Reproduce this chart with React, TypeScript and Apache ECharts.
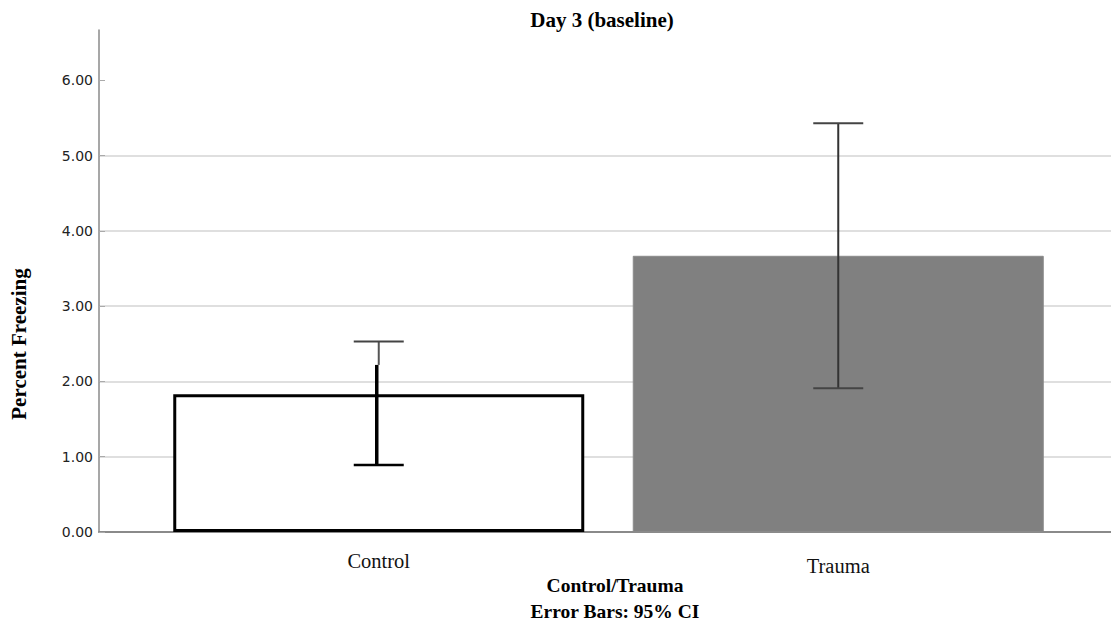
import React, { useEffect, useRef } from "react";
import * as echarts from "echarts";

const categories = ["Control", "Trauma"];
const meanValues = [1.83, 3.67];
const ciLow = [0.89, 1.91];
const ciHigh = [2.53, 5.43];
const thickTop = [2.22, null];
const yTicks = [0, 1, 2, 3, 4, 5, 6];

const serif = "'Liberation Serif', 'Times New Roman', serif";

export default function App() {
  const ref = useRef<HTMLDivElement>(null);
  useEffect(() => {
    if (!ref.current) return;
    const chart = echarts.init(ref.current, null, { renderer: "svg" });
    const gridColors = yTicks
      .map((t) => (t === 6 ? "rgba(0,0,0,0)" : "#d4d4d4"))
      .concat(["rgba(0,0,0,0)"]);
    chart.setOption({
      animation: false,
      backgroundColor: "#fff",
      grid: [
        { left: 99, right: 0, top: 30, bottom: 89, outerBoundsMode: "none", containLabel: false },
        { left: 149, right: 43, top: 30, bottom: 89, outerBoundsMode: "none", containLabel: false },
      ],
      xAxis: [
        {
          type: "category",
          gridIndex: 0,
          data: [""],
          axisLine: { show: true, lineStyle: { color: "#8a8a8a", width: 2 } },
          axisTick: { show: false },
          axisLabel: { show: false },
        },
        {
          type: "category",
          gridIndex: 1,
          data: categories,
          axisLine: { show: false },
          axisTick: { show: false },
          axisLabel: {
            margin: 18,
            fontFamily: serif,
            fontSize: 20.5,
            color: "#111",
            formatter: (v: string) => (v === "Trauma" ? "{b|" + v + "}" : "{a|" + v + "}"),
            rich: {
              a: { fontFamily: serif, fontSize: 20.5, color: "#111" },
              b: { fontFamily: serif, fontSize: 20.5, color: "#111", padding: [5, 0, 0, 0] },
            },
          },
        },
      ],
      yAxis: [
        {
          type: "value",
          gridIndex: 0,
          min: 0,
          max: 6.67,
          interval: 1,
          axisLine: { show: true, lineStyle: { color: "#8a8a8a", width: 1.5 } },
          axisTick: { show: true, inside: true, length: 6, lineStyle: { color: "#aaa" } },
          axisLabel: {
            margin: 6,
            fontFamily: "'DejaVu Sans', sans-serif",
            fontSize: 14,
            color: "#222",
            showMaxLabel: false,
            formatter: (v: number) => v.toFixed(2),
          },
          splitLine: { show: true, lineStyle: { color: gridColors, width: 1.5 } },
        },
        {
          type: "value",
          gridIndex: 1,
          min: 0,
          max: 6.67,
          interval: 1,
          show: false,
          splitLine: { show: false },
        },
      ],
      graphic: [
        {
          type: "text",
          x: 602,
          y: 20,
          style: {
            text: "Day 3 (baseline)",
            fontFamily: serif,
            fontSize: 21,
            fontWeight: "bold",
            fill: "#000",
            textAlign: "center",
            textVerticalAlign: "middle",
          },
        },
        {
          type: "text",
          x: 19,
          y: 344,
          rotation: Math.PI / 2,
          style: {
            text: "Percent Freezing",
            fontFamily: serif,
            fontSize: 21,
            fontWeight: "bold",
            fill: "#000",
            textAlign: "center",
            textVerticalAlign: "middle",
          },
        },
        {
          type: "text",
          x: 615,
          y: 585,
          style: {
            text: "Control/Trauma",
            fontFamily: serif,
            fontSize: 19.5,
            fontWeight: "bold",
            fill: "#000",
            textAlign: "center",
            textVerticalAlign: "middle",
          },
        },
        {
          type: "text",
          x: 615,
          y: 611,
          style: {
            text: "Error Bars: 95% CI",
            fontFamily: serif,
            fontSize: 19.5,
            fontWeight: "bold",
            fill: "#000",
            textAlign: "center",
            textVerticalAlign: "middle",
          },
        },
      ],
      series: [
        {
          type: "bar",
          xAxisIndex: 1,
          yAxisIndex: 1,
          barWidth: 411,
          data: [
            { value: meanValues[0], itemStyle: { color: "#ffffff", borderColor: "#000", borderWidth: 3 } },
            { value: meanValues[1], itemStyle: { color: "#808080", borderColor: "#8a8a8a", borderWidth: 1 } },
          ],
        },
        {
          type: "custom",
          xAxisIndex: 1,
          yAxisIndex: 1,
          z: 10,
          data: categories.map((c, i) => [i, ciLow[i], ciHigh[i], thickTop[i] == null ? -1 : thickTop[i]]),
          renderItem: (params: any, api: any) => {
            const i = api.value(0);
            const lo = api.coord([i, api.value(1)]);
            const hi = api.coord([i, api.value(2)]);
            const tt = api.value(3);
            const half = 25;
            const children: any[] = [];
            if (tt > 0) {
              const mid = api.coord([i, tt]);
              children.push(
                { type: "line", shape: { x1: hi[0], y1: hi[1], x2: hi[0], y2: mid[1] }, style: { stroke: "#555", lineWidth: 2 } },
                { type: "line", shape: { x1: lo[0] - 2, y1: lo[1], x2: lo[0] - 2, y2: mid[1] }, style: { stroke: "#000", lineWidth: 3.5 } },
                { type: "line", shape: { x1: hi[0] - half, y1: hi[1], x2: hi[0] + half, y2: hi[1] }, style: { stroke: "#444", lineWidth: 2 } },
                { type: "line", shape: { x1: lo[0] - half, y1: lo[1], x2: lo[0] + half, y2: lo[1] }, style: { stroke: "#000", lineWidth: 2.5 } }
              );
            } else {
              children.push(
                { type: "line", shape: { x1: lo[0], y1: lo[1], x2: hi[0], y2: hi[1] }, style: { stroke: "#333", lineWidth: 2 } },
                { type: "line", shape: { x1: hi[0] - half, y1: hi[1], x2: hi[0] + half, y2: hi[1] }, style: { stroke: "#444", lineWidth: 2 } },
                { type: "line", shape: { x1: lo[0] - half, y1: lo[1], x2: lo[0] + half, y2: lo[1] }, style: { stroke: "#444", lineWidth: 2 } }
              );
            }
            return { type: "group", children };
          },
        },
      ],
    });
    return () => chart.dispose();
  }, []);
  return (
    <div
      ref={ref}
      style={{ position: "fixed", left: 0, top: 0, width: 1111, height: 621, background: "#fff" }}
    />
  );
}
